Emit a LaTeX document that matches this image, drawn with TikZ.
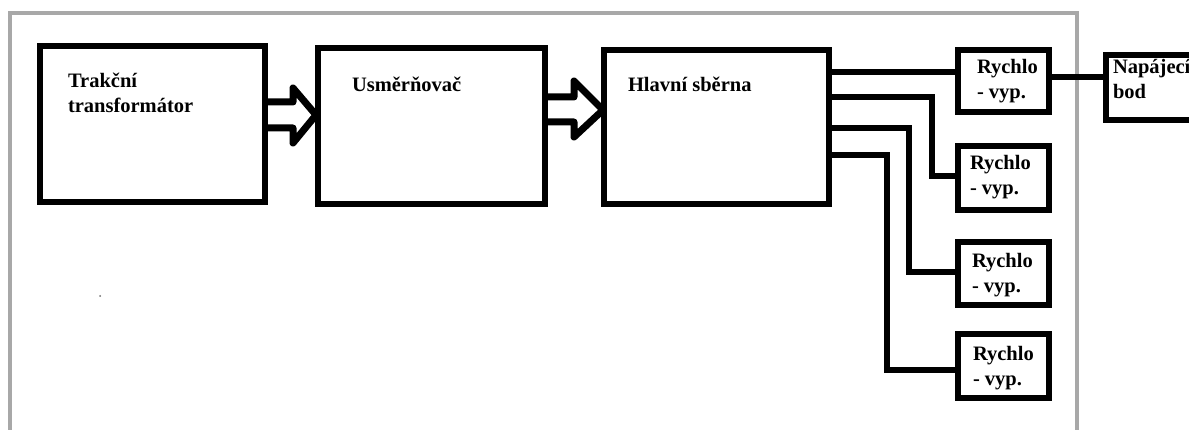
\documentclass[tikz,border=0pt]{standalone}
\usepackage{fontspec}
\setmainfont{Liberation Serif}
\begin{document}
\begin{tikzpicture}[x=1pt,y=-1pt,
  blk/.style={draw=black,line width=6.8pt,fill=white,rectangle,inner sep=0,outer sep=0},
  rv/.style={draw=black,line width=6.3pt,fill=white,rectangle,inner sep=0,outer sep=0},
  wire/.style={draw=black,line width=6pt},
  barrow/.style={draw=black,line width=7pt,fill=white,line join=round},
  lbl/.style={anchor=base west,inner sep=0,outer sep=0,align=left,
    font=\fontsize{20.5}{25}\selectfont\bfseries}]
\useasboundingbox (0,0) rectangle (1189,430);
\fill[white] (0,0) rectangle (1189,430);
% outer grey frame
\draw[line width=4pt,color={rgb,255:red,168;green,168;blue,168}] (10,13) rectangle (1077,445);
% tiny dot
\fill[color={rgb,255:red,110;green,110;blue,110}] (100,296) circle (1);
% block arrows (drawn under the boxes)
\draw[barrow] (262,102) -- (293,102) -- (293,88) -- (316,115) -- (293,143) -- (293,128) -- (262,128);
\draw[barrow] (540,97) -- (574,97) -- (574,81) -- (603,110) -- (574,137) -- (574,122) -- (540,122);
% main boxes
\node[blk,anchor=north west,minimum width=225pt,minimum height=156pt] (b1) at (40,46) {};
\node[blk,anchor=north west,minimum width=227pt,minimum height=156pt] (b2) at (318,48) {};
\node[blk,anchor=north west,minimum width=225pt,minimum height=154pt] (b3) at (604,50) {};
% breaker boxes
\node[rv,anchor=north west,minimum width=91pt,minimum height=62pt] (r1) at (958,50) {};
\node[rv,anchor=north west,minimum width=91pt,minimum height=64pt] (r2) at (958,146) {};
\node[rv,anchor=north west,minimum width=91pt,minimum height=63pt] (r3) at (958,242) {};
\node[rv,anchor=north west,minimum width=91pt,minimum height=64pt] (r4) at (958,334) {};
\node[rv,anchor=north west,minimum width=120pt,minimum height=65pt] (np) at (1106,55) {};
% wires
\draw[wire] (b3.east |- 0,72) -- (r1.west |- 0,72);
\draw[wire] (b3.east |- 0,97) -| (932,176) -- (r2.west |- 0,176);
\draw[wire] (b3.east |- 0,128) -| (909,272) -- (r3.west |- 0,272);
\draw[wire] (b3.east |- 0,155) -| (887,370) -- (r4.west |- 0,370);
\draw[wire] (r1.east |- 0,77) -- (np.west |- 0,77);
% labels (base anchor = baseline of last line)
\node[lbl] (t1) at (68,113) {Trakční\\transformátor};
\node[lbl] (t2) at (352,92) {Usměrňovač};
\node[lbl] (t3) at (628,92) {Hlavní sběrna};
\node[lbl] (t4) at (977,99) {Rychlo\\- vyp.};
\node[lbl] (t5) at (970,195) {Rychlo\\- vyp.};
\node[lbl] (t6) at (972,293) {Rychlo\\- vyp.};
\node[lbl] (t7) at (973,385) {Rychlo\\- vyp.};
\node[lbl] (t8) at (1113,99) {Napájecí\\bod};
\end{tikzpicture}
\end{document}
